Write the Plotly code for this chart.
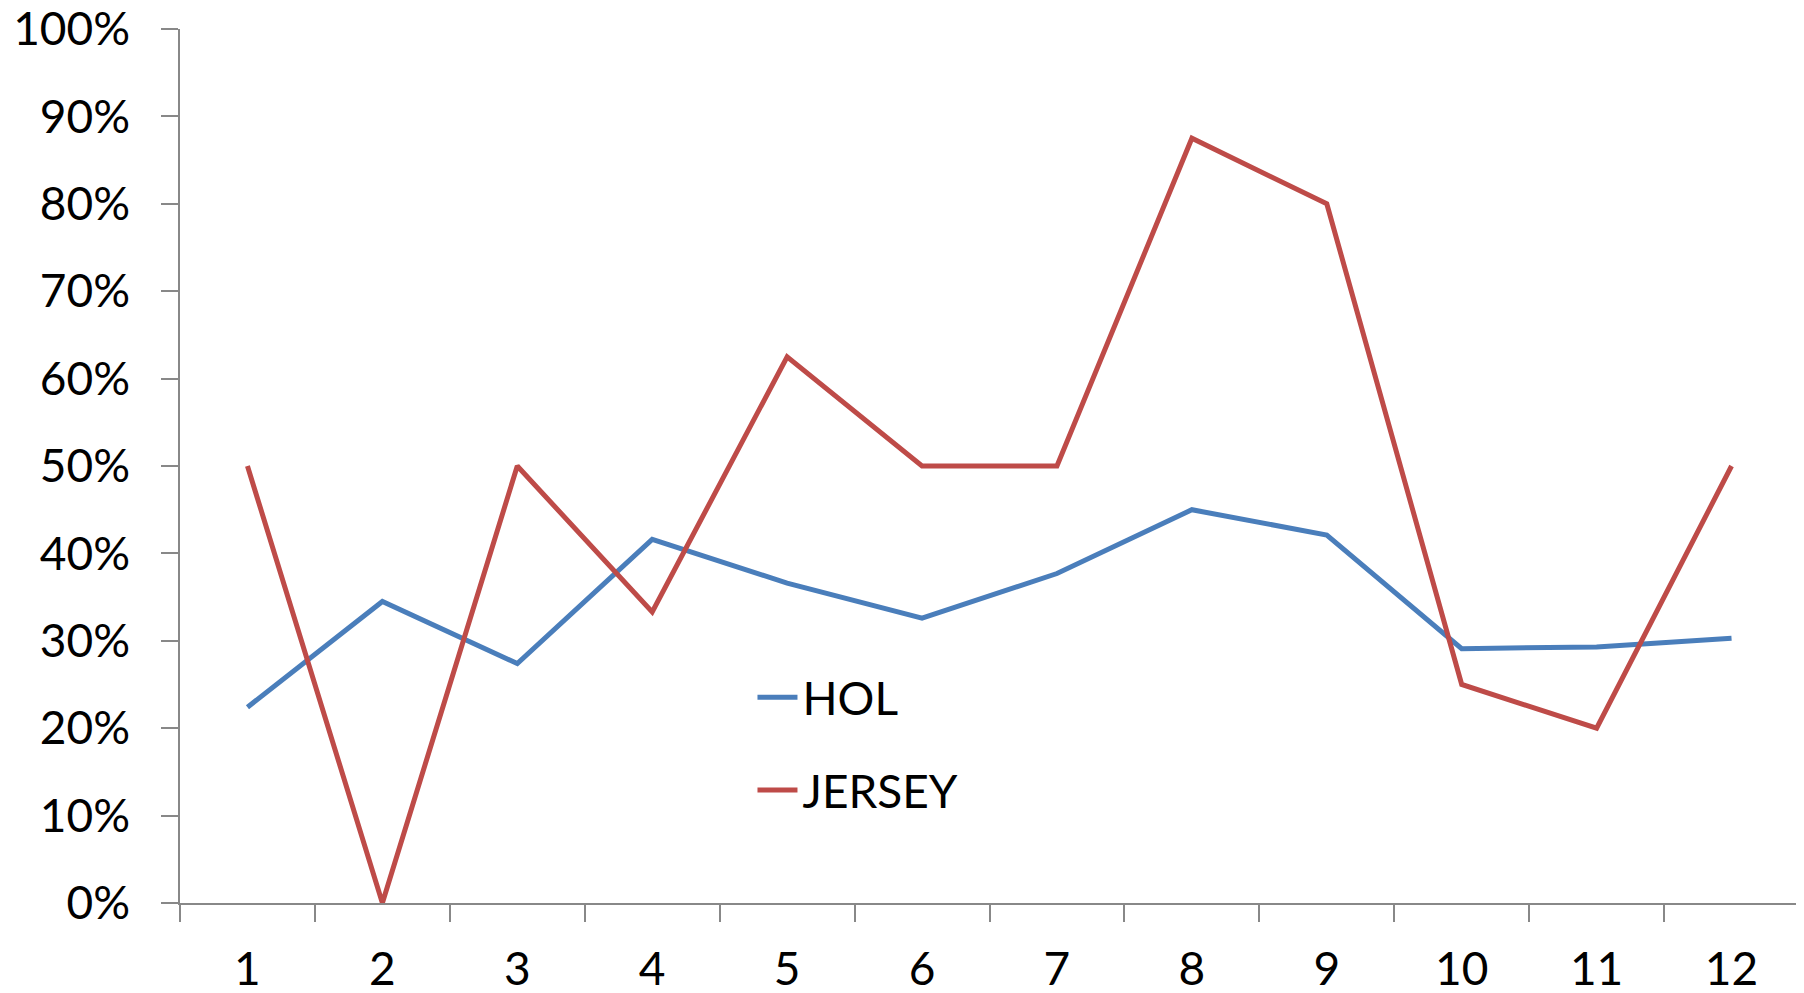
import plotly.graph_objects as go

categories = ["1", "2", "3", "4", "5", "6", "7", "8", "9", "10", "11", "12"]
hol = [0.224, 0.345, 0.274, 0.416, 0.366, 0.326, 0.377, 0.450, 0.421, 0.291, 0.293, 0.303]
jersey = [0.50, 0.0, 0.50, 0.333, 0.625, 0.50, 0.50, 0.875, 0.80, 0.25, 0.20, 0.50]
y_ticks = [0, 0.1, 0.2, 0.3, 0.4, 0.5, 0.6, 0.7, 0.8, 0.9, 1.0]

FONT = "Lato"
fig = go.Figure()
fig.add_trace(go.Scatter(x=categories, y=hol, mode="lines", name="HOL",
                         line=dict(color="#4A7EBB", width=5), legendgroup="a"))
fig.add_trace(go.Scatter(x=categories, y=jersey, mode="lines", name="JERSEY",
                         line=dict(color="#BE4B48", width=5), legendgroup="b"))

fig.update_layout(
    width=1796, height=985,
    margin=dict(l=172, r=5, t=21, b=90, autoexpand=False),
    paper_bgcolor="white", plot_bgcolor="white",
    font=dict(family=FONT, size=46, color="black"),
    showlegend=True,
    legend=dict(x=0.3536, y=0.277, xanchor="left", yanchor="top",
                bgcolor="rgba(0,0,0,0)", font=dict(size=46, family=FONT),
                tracegroupgap=30, traceorder="grouped", itemwidth=40),
)
fig.update_xaxes(type="category", range=[-0.5, 11.5], showgrid=False,
                 showline=True, linecolor="#888888", linewidth=1.5,
                 ticks="outside", tickson="boundaries", ticklen=17,
                 tickcolor="#888888", tickwidth=1.5, automargin=False,
                 ticklabeloverflow="allow",
                 tickfont=dict(size=46, family=FONT), ticklabelstandoff=25,
                 zeroline=False)
fig.update_yaxes(range=[0, 1], tickvals=y_ticks, tickformat=".0%",
                 showgrid=False, showline=True, linecolor="#888888", linewidth=1.5,
                 ticks="outside", ticklen=17, tickcolor="#888888", tickwidth=1.5,
                 automargin=False, ticklabeloverflow="allow",
                 tickfont=dict(size=46, family=FONT), ticklabelstandoff=22,
                 zeroline=False)

fig.write_html("out.html")
